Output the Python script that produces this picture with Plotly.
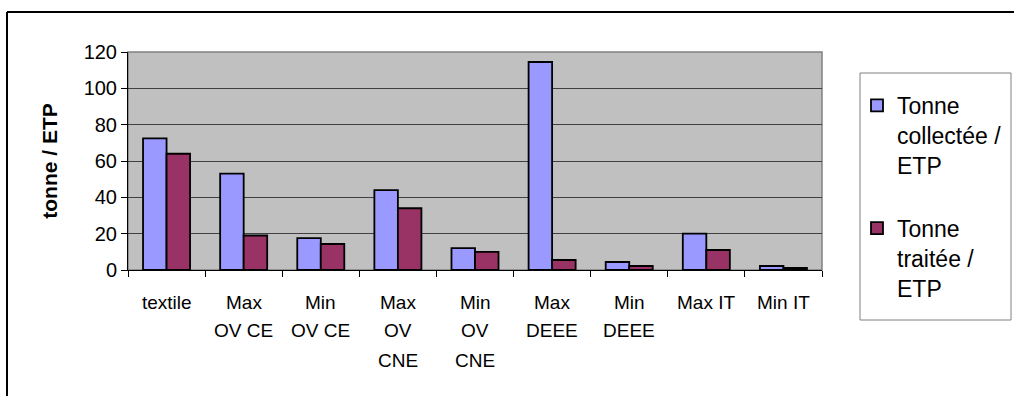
import plotly.graph_objects as go

categories = ["textile", "Max OV CE", "Min OV CE", "Max OV CNE", "Min OV CNE",
              "Max DEEE", "Min DEEE", "Max IT", "Min IT"]
label_lines = [["textile"], ["Max", "OV CE"], ["Min", "OV CE"], ["Max", "OV", "CNE"], ["Min", "OV", "CNE"],
               ["Max", "DEEE"], ["Min", "DEEE"], ["Max IT"], ["Min IT"]]
collectee = [72.5, 53, 17.5, 44, 12, 114.5, 4.4, 20, 2.2]
traitee = [64, 19, 14.3, 34, 10, 5.5, 2.2, 11, 1.1]
series_names = ["Tonne<br>collectée /<br>ETP", "Tonne<br>traitée /<br>ETP"]
y_ticks = [0, 20, 40, 60, 80, 100, 120]

W, H = 1014, 396
L, R, T, B = 128, 192, 52, 126
pw, ph = W - L - R, H - T - B

def px(x):
    return (x - L) / pw

def py(y):
    return (H - B - y) / ph

fig = go.Figure()
fig.add_trace(go.Bar(x=categories, y=collectee, name=series_names[0], legendgroup="a",
                     marker=dict(color="#9999FF", line=dict(color="black", width=1.8))))
fig.add_trace(go.Bar(x=categories, y=traitee, name=series_names[1], legendgroup="b",
                     marker=dict(color="#993366", line=dict(color="black", width=1.8))))

shapes = [
    dict(type="rect", xref="paper", yref="paper", x0=0, x1=1, y0=0, y1=1,
         line=dict(color="#808080", width=1.5), layer="below"),
    dict(type="line", xref="paper", yref="paper", x0=px(7), x1=px(7), y0=py(12), y1=py(400),
         line=dict(color="black", width=2)),
    dict(type="line", xref="paper", yref="paper", x0=px(7), x1=px(1020), y0=py(12), y1=py(12),
         line=dict(color="black", width=2)),
    dict(type="rect", xref="paper", yref="paper", x0=px(860), x1=px(1011), y0=py(320), y1=py(73),
         line=dict(color="#808080", width=1), fillcolor="white", layer="below"),
]

line_centers = [302, 330, 360]
annotations = []
for cat, lines in zip(categories, label_lines):
    for i, txt in enumerate(lines):
        annotations.append(dict(x=cat, xref="x", y=py(line_centers[i]), yref="paper",
                                text=txt, showarrow=False, xanchor="center", yanchor="middle",
                                font=dict(size=19, family="Liberation Sans, Arial, sans-serif", color="black")))

fig.update_layout(
    width=W, height=H,
    margin=dict(l=L, r=R, t=T, b=B, autoexpand=False),
    paper_bgcolor="white", plot_bgcolor="#C0C0C0",
    barmode="group", bargap=0.39, bargroupgap=0,
    font=dict(family="Liberation Sans, Arial, sans-serif", color="black"),
    shapes=shapes,
    annotations=annotations,
    showlegend=True,
    legend=dict(x=px(857), xanchor="left", y=py(84), yanchor="top",
                bgcolor="rgba(0,0,0,0)", borderwidth=0, maxheight=320,
                font=dict(size=23, family="Liberation Sans, Arial, sans-serif"),
                valign="top", tracegroupgap=30, traceorder="grouped"),
    xaxis=dict(
        type="category", showgrid=False, ticks="outside", tickson="boundaries",
        ticklen=6, tickcolor="black", showline=True, linecolor="black", linewidth=1,
        showticklabels=False, automargin=False,
    ),
    yaxis=dict(
        range=[0, 120], tickvals=y_ticks, ticks="outside", ticklen=6, tickcolor="black",
        showline=True, linecolor="black", linewidth=1, zeroline=False,
        showgrid=True, gridcolor="#404040", gridwidth=1,
        tickfont=dict(size=20), automargin=False,
        title=dict(text="<b>tonne / ETP</b>", font=dict(size=21), standoff=20),
    ),
)

fig.write_html("out.html")
